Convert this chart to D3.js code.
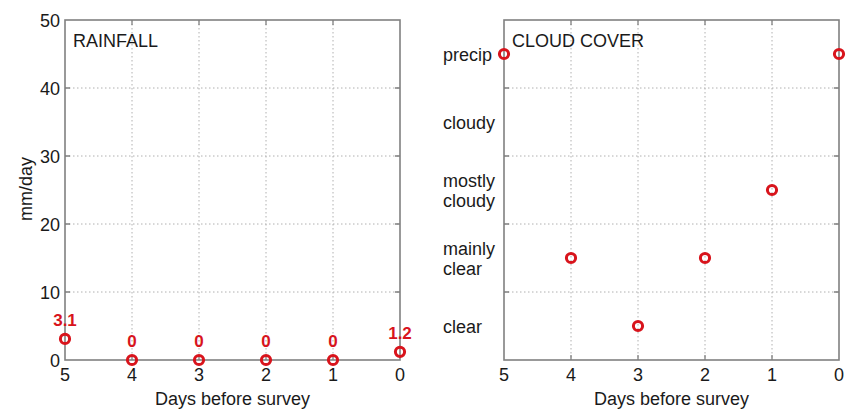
<!DOCTYPE html>
<html><head><meta charset="utf-8">
<script src="https://cdn.jsdelivr.net/npm/d3@7"></script>
<style>body{margin:0;background:#fff}svg{display:block}text{font-family:"Liberation Sans",Arial,sans-serif;fill:#1a1a1a}</style>
</head><body>
<script>
const days = [5, 4, 3, 2, 1, 0];
const rainfall = [3.1, 0, 0, 0, 0, 1.2];
const rainfallLabels = ["3.1", "0", "0", "0", "0", "1.2"];
const rainTicks = [0, 10, 20, 30, 40, 50];
const cloudCategories = [["clear"], ["mainly", "clear"], ["mostly", "cloudy"], ["cloudy"], ["precip"]];
const cloudCover = [4, 1, 0, 1, 2, 4]; // category index per day

const W = 857, H = 417;
const svg = d3.select("body").append("svg").attr("width", W).attr("height", H);
const red = "#d8141c", frame = "#808080", grid = "#b0b0b0";
const FS = "18px";

function panel(x0, x1, y0, y1, yScale, yGrid, title) {
  const x = d3.scaleLinear().domain([5, 0]).range([x0, x1]);
  const g = svg.append("g");
  g.selectAll(".vg").data([4, 3, 2, 1]).enter().append("line")
    .attr("x1", d => x(d)).attr("x2", d => x(d)).attr("y1", y0).attr("y2", y1)
    .attr("stroke", grid).attr("stroke-width", 1).attr("stroke-dasharray", "1.5,2.5");
  g.selectAll(".hg").data(yGrid).enter().append("line")
    .attr("y1", d => yScale(d)).attr("y2", d => yScale(d)).attr("x1", x0).attr("x2", x1)
    .attr("stroke", grid).attr("stroke-width", 1).attr("stroke-dasharray", "1.5,2.5");
  const tl = 5;
  g.selectAll(".xt").data([4, 3, 2, 1]).enter().append("path")
    .attr("d", d => `M${x(d)},${y1}v${-tl}M${x(d)},${y0}v${tl}`)
    .attr("stroke", frame).attr("stroke-width", 1.3);
  g.selectAll(".yt").data(yGrid).enter().append("path")
    .attr("d", d => `M${x0},${yScale(d)}h${tl}M${x1},${yScale(d)}h${-tl}`)
    .attr("stroke", frame).attr("stroke-width", 1.3);
  g.append("rect").attr("x", x0).attr("y", y0).attr("width", x1 - x0).attr("height", y1 - y0)
    .attr("fill", "none").attr("stroke", frame).attr("stroke-width", 1.6);
  g.selectAll(".xl").data(days).enter().append("text")
    .attr("x", d => x(d)).attr("y", 381).attr("text-anchor", "middle")
    .style("font-size", FS).text(d => d);
  g.append("text").attr("x", (x0 + x1) / 2).attr("y", 405).attr("text-anchor", "middle")
    .style("font-size", FS).text("Days before survey");
  g.append("text").attr("x", x0 + 8).attr("y", 47)
    .style("font-size", FS).text(title);
  return {x, g};
}

// Left: rainfall
const yR = d3.scaleLinear().domain([0, 50]).range([360, 20]);
const L = panel(65, 400, 20, 360, yR, [10, 20, 30, 40], "RAINFALL");
L.g.selectAll(".yl").data(rainTicks).enter().append("text")
  .attr("x", 60).attr("y", d => yR(d) + 6.5).attr("text-anchor", "end")
  .style("font-size", FS).text(d => d);
L.g.append("text").attr("transform", "translate(32,189) rotate(-90)").attr("text-anchor", "middle")
  .style("font-size", FS).text("mm/day");
L.g.selectAll(".pt").data(days).enter().append("circle")
  .attr("cx", d => L.x(d)).attr("cy", (d, i) => yR(rainfall[i])).attr("r", 4.6)
  .attr("fill", "none").attr("stroke", red).attr("stroke-width", 3);
L.g.selectAll(".pl").data(days).enter().append("text")
  .attr("x", d => L.x(d)).attr("y", (d, i) => yR(rainfall[i]) - 13).attr("text-anchor", "middle")
  .style("font-size", "17px").style("font-weight", "bold").style("fill", red)
  .text((d, i) => rainfallLabels[i]);

// Right: cloud cover
const yC = d3.scaleLinear().domain([0, 5]).range([360, 20]);
const R = panel(504, 839, 20, 360, yC, [1, 2, 3, 4], "CLOUD COVER");
cloudCategories.forEach((lines, i) => {
  const t = R.g.append("text").attr("x", 443).style("font-size", FS);
  const cy = yC(i + 0.5);
  lines.forEach((s, j) => {
    t.append("tspan").attr("x", 443).attr("y", cy + 6.5 + (j - (lines.length - 1) / 2) * 20).text(s);
  });
});
R.g.selectAll(".pt").data(days).enter().append("circle")
  .attr("cx", d => R.x(d)).attr("cy", (d, i) => yC(cloudCover[i] + 0.5)).attr("r", 4.6)
  .attr("fill", "none").attr("stroke", red).attr("stroke-width", 3);
</script>
</body></html>
